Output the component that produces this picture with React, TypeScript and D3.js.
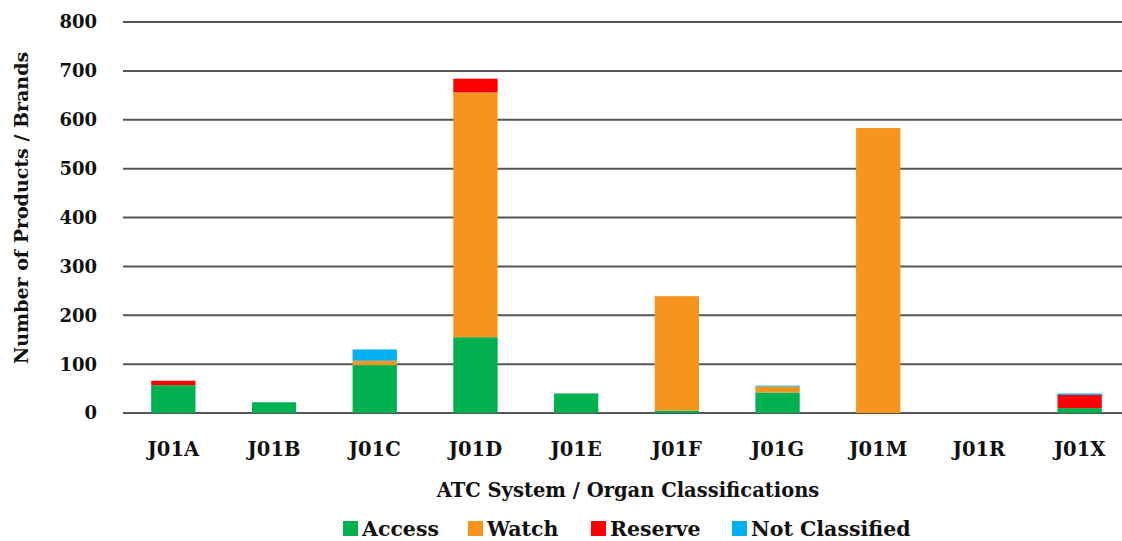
import React from "react";
import * as d3 from "d3";

const categories = ["J01A", "J01B", "J01C", "J01D", "J01E", "J01F", "J01G", "J01M", "J01R", "J01X"];
const access = [57, 22, 98, 155, 40, 5, 42, 0, 0, 10];
const watch = [0, 0, 9, 501, 0, 234, 12, 583, 0, 0];
const reserve = [9, 0, 0, 28, 0, 0, 0, 0, 0, 27];
const notClassified = [0, 0, 23, 0, 0, 0, 2, 0, 0, 3];
const seriesNames = ["Access", "Watch", "Reserve", "Not Classified"];
const seriesColors = ["#00B050", "#F7941D", "#FF0000", "#00B0F0"];
const yTicks = [0, 100, 200, 300, 400, 500, 600, 700, 800];

const W = 1122;
const H = 541;
const FONT = "'DejaVu Serif', 'Liberation Serif', serif";

export default function App() {
  const x = d3.scaleBand<string>().domain(categories).range([123, 1130]).paddingInner(0.56).paddingOuter(0.28);
  const y = d3.scaleLinear().domain([0, 800]).range([413, 22]);
  const rows = categories.map((c, i) => ({
    cat: c,
    Access: access[i],
    Watch: watch[i],
    Reserve: reserve[i],
    "Not Classified": notClassified[i],
  }));
  const stacked = d3.stack<any>().keys(seriesNames)(rows);
  const legendX = [343, 468, 591, 732];

  return (
    <svg width={W} height={H} style={{ position: "absolute", left: 0, top: 0, background: "#fff" }} fontFamily={FONT}>
      {yTicks.map((t) => (
        <g key={t}>
          <line x1={123} x2={W} y1={y(t)} y2={y(t)} stroke="#555" strokeWidth={2} />
          <text x={97} y={y(t)} dy="0.36em" textAnchor="end" fontSize={18} fontWeight="bold" fill="#111">
            {t}
          </text>
        </g>
      ))}
      {stacked.map((s, si) => (
        <g key={s.key} fill={seriesColors[si]}>
          {s.map((d: any, i: number) =>
            d[1] - d[0] > 0 ? (
              <rect key={i} x={x(categories[i])} width={x.bandwidth()} y={y(d[1])} height={y(d[0]) - y(d[1])} />
            ) : null
          )}
        </g>
      ))}
      {categories.map((c) => (
        <text key={c} x={(x(c) as number) + x.bandwidth() / 2} y={456} textAnchor="middle" fontSize={19.5} fontWeight="bold" fill="#111">
          {c}
        </text>
      ))}
      <text x={628} y={497} textAnchor="middle" fontSize={19.5} fontWeight="bold" fill="#111">
        ATC System / Organ Classifications
      </text>
      <text transform="translate(28,208) rotate(-90)" textAnchor="middle" fontSize={19} fontWeight="bold" fill="#111">
        Number of Products / Brands
      </text>
      {seriesNames.map((n, i) => (
        <g key={n} transform={`translate(${legendX[i]},0)`}>
          <rect x={0} y={521} width={15} height={15} fill={seriesColors[i]} />
          <text x={19} y={536} fontSize={20.5} fontWeight="bold" fill="#111">
            {n}
          </text>
        </g>
      ))}
    </svg>
  );
}
